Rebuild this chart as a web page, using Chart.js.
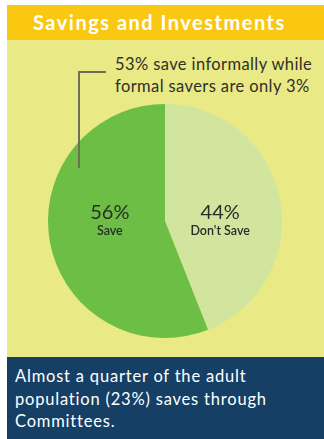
<!DOCTYPE html>
<html>
<head>
<meta charset="utf-8">
<script src="https://cdn.jsdelivr.net/npm/chart.js@4/dist/chart.umd.min.js"></script>
<style>
  html, body { margin: 0; padding: 0; background: #fff; }
  body { width: 324px; height: 439px; position: relative; overflow: hidden; font-family: Lato, "Noto Sans", sans-serif; }
  #header { position: absolute; left: 7px; top: 5px; width: 317px; height: 35px; background: #fac811; }
  #header span { position: absolute; left: 26px; top: 5px; color: #fff; font-weight: 700; font-size: 20px; letter-spacing: 1.5px; }
  #panel { position: absolute; left: 7px; top: 40px; width: 317px; height: 317px; background: #e9e985; }
  #note { position: absolute; left: 115px; top: 53px; font-size: 16.5px; line-height: 22px; color: #2f2f2a; letter-spacing: 0.4px; }
  #leadH { position: absolute; left: 78px; top: 71px; width: 28px; height: 0; border-top: 2px solid #6f6f55; }
  #leadV { position: absolute; left: 78px; top: 71px; width: 0; height: 97px; border-left: 2px solid #6f6f55; z-index: 2; }
  #chartBox { position: absolute; left: 48px; top: 104px; width: 234px; height: 234px; }
  #footer { position: absolute; left: 7px; top: 357px; width: 317px; height: 82px; background: #163f66; }
  #footer div { position: absolute; left: 8px; top: 8px; color: #fff; font-size: 16.5px; line-height: 22.5px; letter-spacing: 0.8px; }
</style>
</head>
<body>
<div id="header"><span>Savings and Investments</span></div>
<div id="panel"></div>
<div id="note">53% save informally while<br>formal savers are only 3%</div>
<div id="chartBox"><canvas id="pie"></canvas></div>
<div id="leadH"></div>
<div id="leadV"></div>
<div id="footer"><div>Almost a quarter of the adult<br>population (23%) saves through<br>Committees.</div></div>
<script>
const labels = ["Don't Save", 'Save'];
const values = [44, 56];
const colors = ['#d2e59e', '#6dbe45'];

// percent + name drawn inside each slice
const sliceLabels = {
    id: 'sliceLabels',
    afterDatasetsDraw(chart) {
        const ctx = chart.ctx;
        const meta = chart.getDatasetMeta(0);
        meta.data.forEach((arc, i) => {
            const p = arc.getProps(['x', 'y', 'startAngle', 'endAngle', 'outerRadius'], true);
            const mid = (p.startAngle + p.endAngle) / 2;
            const x = p.x + Math.cos(mid) * p.outerRadius * 0.48;
            const y = p.y;
            ctx.save();
            ctx.fillStyle = '#2b2b2b';
            ctx.textAlign = 'center';
            ctx.textBaseline = 'middle';
            ctx.font = '20px Lato, "Noto Sans", sans-serif';
            ctx.fillText(values[i] + '%', x, y - 8);
            ctx.font = '600 12.5px Lato, "Noto Sans", sans-serif';
            ctx.fillText(labels[i], x, y + 10);
            ctx.restore();
        });
    }
};

new Chart(document.getElementById('pie'), {
    type: 'pie',
    data: {
        labels: labels,
        datasets: [{
            data: values,
            backgroundColor: colors,
            borderWidth: 0
        }]
    },
    options: {
        responsive: true,
        maintainAspectRatio: false,
        animation: false,
        layout: { padding: 0 },
        plugins: {
            legend: { display: false },
            tooltip: { enabled: false }
        }
    },
    plugins: [sliceLabels]
});
</script>
</body>
</html>
